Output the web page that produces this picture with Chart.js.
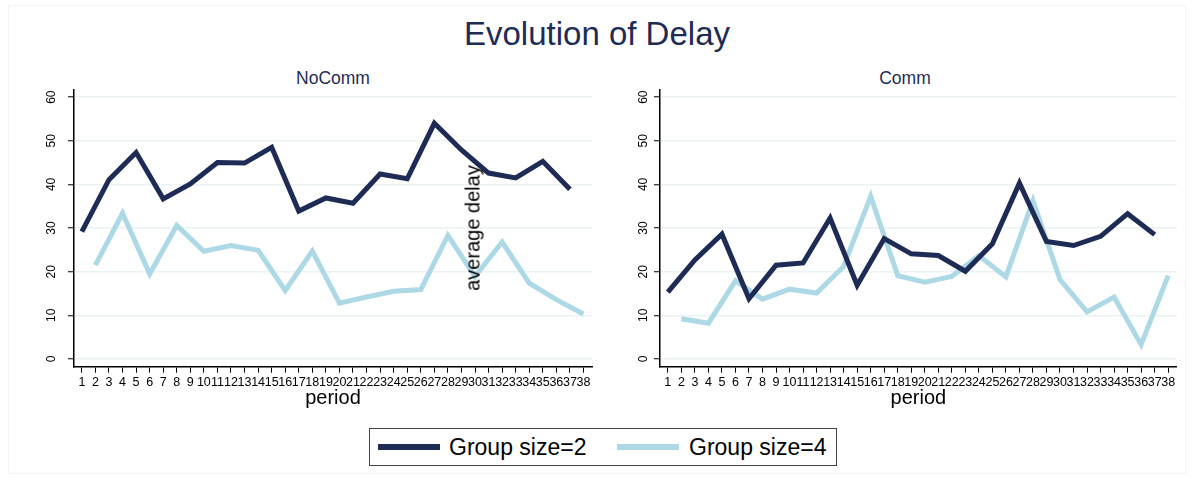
<!DOCTYPE html>
<html>
<head>
<meta charset="utf-8">
<script src="https://cdn.jsdelivr.net/npm/chart.js@4/dist/chart.umd.min.js"></script>
<style>
  body { margin: 0; background: #fff; font-family: "Liberation Sans", Arial, sans-serif; }
  #page { position: relative; width: 1194px; height: 479px; overflow: hidden; }
  #frame { position: absolute; left: 8px; top: 5px; width: 1178px; height: 469px; border: 1px solid #f4f4f4; box-sizing: border-box; }
  #title { position: absolute; left: 0; width: 1194px; top: 15px; text-align: center; font-size: 33px; color: #1e2c55; }
  .sub { position: absolute; top: 68px; font-size: 17.5px; color: #1e2c55; transform: translateX(-50%); }
  .panel { position: absolute; top: 60px; height: 350px; }
  #ytitle { position: absolute; left: 473px; top: 228px; font-size: 20px; color: #000;
            transform: translate(-50%, -50%) rotate(-90deg); white-space: nowrap; z-index: 2; }
  #legend { position: absolute; left: 369px; top: 428px; width: 468px; height: 38px; border: 1px solid #444;
            box-sizing: border-box; }
  .swatch { position: absolute; top: 15px; width: 62px; height: 6px; }
  .ltext { position: absolute; top: 5px; font-size: 23px; color: #000; }
</style>
</head>
<body>
<div id="page">
  <div id="frame"></div>
  <div id="title">Evolution of Delay</div>
  <div class="sub" style="left:333px">NoComm</div>
  <div class="sub" style="left:905px">Comm</div>
  <div class="panel" style="left:0;width:600px"><canvas id="nocomm" width="600" height="350"></canvas></div>
  <div class="panel" style="left:600px;width:594px"><canvas id="comm" width="594" height="350"></canvas></div>
  <div id="ytitle">average delay</div>
  <div id="legend"></div>
</div>
<script>
// periods: group size 2 sessions on odd periods, group size 4 on even ones
const PERIODS_G2 = [1, 3, 5, 7, 9, 11, 13, 15, 17, 19, 21, 23, 25, 27, 29, 31, 33, 35, 37];
const PERIODS_G4 = [2, 4, 6, 8, 10, 12, 14, 16, 18, 20, 22, 24, 26, 28, 30, 32, 34, 36, 38];
const X_TICKS = [1, 2, 3, 4, 5, 6, 7, 8, 9, 10, 11, 12, 13, 14, 15, 16, 17, 18, 19, 20,
                 21, 22, 23, 24, 25, 26, 27, 28, 29, 30, 31, 32, 33, 34, 35, 36, 37, 38];
const Y_TICKS = [0, 10, 20, 30, 40, 50, 60];

const NOCOMM_G2 = [29.2, 41.1, 47.3, 36.7, 40.1, 45.0, 44.9, 48.5, 33.9, 36.9, 35.7, 42.4, 41.3, 54.0, 47.9, 42.6, 41.5, 45.3, 38.9];
const NOCOMM_G4 = [21.5, 33.4, 19.5, 30.6, 24.7, 26.0, 24.9, 15.7, 24.7, 12.8, 14.2, 15.5, 15.9, 28.3, 18.9, 26.8, 17.4, 13.6, 10.3];
const COMM_G2   = [15.3, 22.7, 28.6, 13.8, 21.5, 22.0, 32.3, 16.9, 27.6, 24.1, 23.7, 20.1, 26.4, 40.3, 26.9, 26.0, 28.1, 33.3, 28.5];
const COMM_G4   = [9.2, 8.2, 17.9, 13.7, 16.0, 15.1, 21.2, 37.3, 19.1, 17.6, 18.9, 23.7, 18.8, 36.3, 18.2, 10.8, 14.2, 3.3, 19.1];

const SERIES_NAMES = ['Group size=2', 'Group size=4'];
const COLORS = ['#1e2c55', '#add8e6'];
const FONT = '"Liberation Sans", Arial, sans-serif';

// zip x and y arrays into point objects
function points(xs, ys) {
  return xs.map((x, i) => ({ x: x, y: ys[i] }));
}

// draws y tick labels rotated 90deg like Stata does
function rotatedYLabels(offset) {
  return {
    id: 'rotY',
    afterDraw(chart) {
      const ctx = chart.ctx;
      const y = chart.scales.y;
      ctx.save();
      ctx.font = '12px ' + FONT;
      ctx.fillStyle = '#000';
      ctx.textAlign = 'center';
      ctx.textBaseline = 'middle';
      Y_TICKS.forEach(v => {
        ctx.save();
        ctx.translate(y.right - offset, y.getPixelForValue(v));
        ctx.rotate(-Math.PI / 2);
        ctx.fillText(String(v), 0, 0);
        ctx.restore();
      });
      ctx.restore();
    }
  };
}

function makePanel(id, g2, g4, opts) {
  return new Chart(document.getElementById(id), {
    type: 'line',
    data: {
      datasets: [
        { label: SERIES_NAMES[0], data: points(PERIODS_G2, g2), borderColor: COLORS[0], borderWidth: 5,
          pointRadius: 0, tension: 0, fill: false },
        { label: SERIES_NAMES[1], data: points(PERIODS_G4, g4), borderColor: COLORS[1], borderWidth: 5,
          pointRadius: 0, tension: 0, fill: false, order: 1 }
      ]
    },
    options: {
      responsive: false,
      animation: false,
      layout: { padding: { top: 29.3, right: opts.right, left: 0, bottom: 0 } },
      plugins: { legend: { display: false }, tooltip: { enabled: false } },
      scales: {
        x: {
          type: 'linear', min: 0.42, max: 38.63,
          afterBuildTicks: s => { s.ticks = X_TICKS.map(v => ({ value: v })); },
          afterFit: s => { s.height = 43.3; },
          grid: { drawOnChartArea: false, drawTicks: true, tickLength: 6, tickColor: '#000', tickWidth: 1 },
          border: { color: '#000', width: 1.5 },
          ticks: { color: '#000', font: { family: FONT, size: 12.5 }, padding: 2, maxRotation: 0, autoSkip: false },
          title: { display: true, text: 'period', color: '#000', font: { family: FONT, size: 20 },
                   padding: { top: 0, bottom: 0 } }
        },
        y: {
          min: -1.77, max: 61.8,
          afterBuildTicks: s => { s.ticks = Y_TICKS.map(v => ({ value: v })); },
          afterFit: s => { s.width = opts.left; },
          grid: { color: '#eaf2f3', lineWidth: 1.5, tickColor: '#000', tickLength: 6, tickWidth: 1 },
          border: { color: '#000', width: 1.5 },
          ticks: { display: false }
        }
      }
    },
    plugins: [rotatedYLabels(opts.labelOffset)]
  });
}

makePanel('nocomm', NOCOMM_G2, NOCOMM_G4, { left: 74, right: 8, labelOffset: 22.5 });
makePanel('comm', COMM_G2, COMM_G4, { left: 60, right: 17.3, labelOffset: 16.7 });

// legend built from series names
const legend = document.getElementById('legend');
const lx = [[8, 79], [247, 319]];
SERIES_NAMES.forEach((name, i) => {
  legend.insertAdjacentHTML('beforeend',
    `<div class="swatch" style="left:${lx[i][0]}px;background:${COLORS[i]}"></div>` +
    `<div class="ltext" style="left:${lx[i][1]}px">${name}</div>`);
});
</script>
</body>
</html>
